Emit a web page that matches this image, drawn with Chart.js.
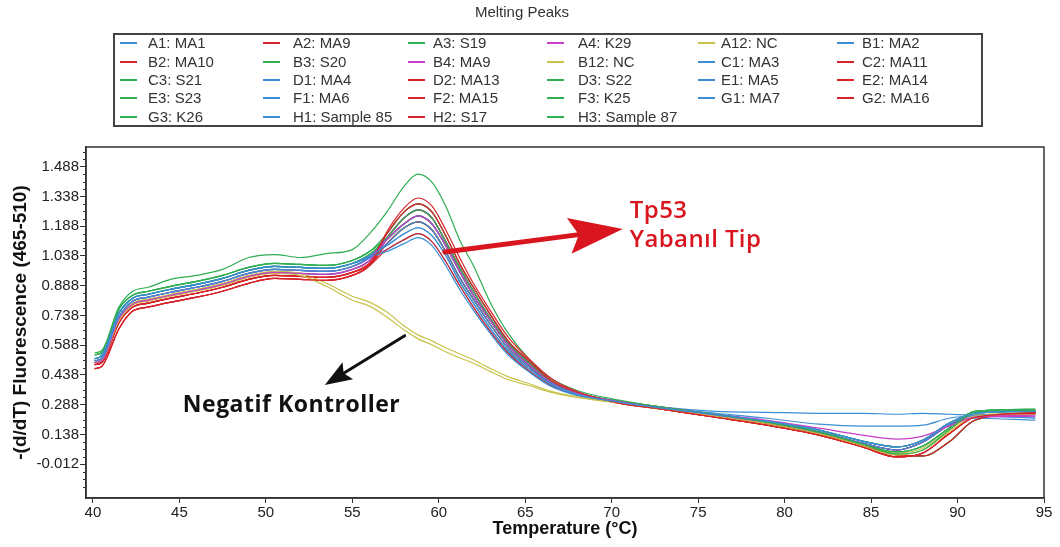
<!DOCTYPE html>
<html>
<head>
<meta charset="utf-8">
<script src="https://cdn.jsdelivr.net/npm/chart.js@4.4.1/dist/chart.umd.min.js"></script>
<style>
  html, body { margin: 0; padding: 0; background: #fff; }
  #wrap { position: relative; width: 1060px; height: 547px; overflow: hidden; }
  #c { position: absolute; left: 0; top: 0; }
  #legend { position: absolute; left: 113px; top: 33px; width: 870px; height: 94px; box-sizing: border-box;
            border: 2px solid #444; font-family: 'Liberation Sans', Arial, sans-serif; font-size: 15px; color: #333; }
  .li { position: absolute; white-space: nowrap; line-height: 18px; height: 18px; }
  .sw { position: absolute; height: 2px; width: 17px; }
</style>
</head>
<body>
<div id="wrap">
  <canvas id="c" width="1060" height="547"></canvas>
  <div id="legend"></div>
</div>
<script>
// ---------- DATA ----------
const temps = [40.1,40.5,41.5,42.3,43.2,44.5,46,47.5,49,50.5,52,53.5,55,56,57,58,58.8,59.6,60.4,61.2,62,63,64,65.2,66.5,68,70.5,73,76,79,82,84.5,86.5,88,89.5,91,94.5];

const xTickValues = [40,45,50,55,60,65,70,75,80,85,90,95];
const yTickValues = [-0.012,0.138,0.288,0.438,0.588,0.738,0.888,1.038,1.188,1.338,1.488];

const sampleLabels = [
  'A1: MA1','A2: MA9','A3: S19','A4: K29','A12: NC','B1: MA2',
  'B2: MA10','B3: S20','B4: MA9','B12: NC','C1: MA3','C2: MA11',
  'C3: S21','D1: MA4','D2: MA13','D3: S22','E1: MA5','E2: MA14',
  'E3: S23','F1: MA6','F2: MA15','F3: K25','G1: MA7','G2: MA16',
  'G3: K26','H1: Sample 85','H2: S17','H3: Sample 87'
];

const A1_MA1 = [0.51,0.52,0.73,0.81,0.83,0.855,0.88,0.91,0.95,0.97,0.965,0.96,0.985,1.03,1.10,1.18,1.21,1.17,1.06,0.93,0.82,0.69,0.575,0.48,0.395,0.342,0.30,0.27,0.24,0.205,0.16,0.105,0.075,0.11,0.195,0.245,0.255];
const A2_MA9 = [0.47,0.48,0.67,0.76,0.78,0.805,0.83,0.86,0.90,0.925,0.92,0.915,0.94,0.99,1.16,1.28,1.33,1.29,1.17,1.03,0.90,0.76,0.63,0.52,0.42,0.355,0.295,0.265,0.225,0.185,0.135,0.075,0.025,0.045,0.14,0.225,0.245];
const A3_S19 = [0.55,0.56,0.78,0.86,0.88,0.92,0.94,0.97,1.03,1.045,1.03,1.05,1.07,1.15,1.26,1.39,1.45,1.41,1.29,1.12,0.99,0.80,0.65,0.52,0.42,0.36,0.31,0.275,0.24,0.20,0.15,0.09,0.04,0.06,0.16,0.25,0.26];
const A4_K29 = [0.50,0.51,0.72,0.795,0.815,0.84,0.865,0.895,0.935,0.955,0.95,0.945,0.97,1.015,1.12,1.20,1.24,1.20,1.09,0.96,0.84,0.71,0.59,0.49,0.40,0.345,0.305,0.275,0.24,0.21,0.17,0.135,0.115,0.13,0.18,0.225,0.235];
const A12_NC = [0.50,0.51,0.71,0.79,0.81,0.835,0.86,0.89,0.93,0.95,0.94,0.885,0.815,0.785,0.73,0.665,0.62,0.59,0.555,0.525,0.497,0.455,0.415,0.385,0.35,0.325,0.295,0.265,0.23,0.19,0.14,0.08,0.035,0.06,0.15,0.23,0.24];
const B1_MA2 = [0.52,0.535,0.75,0.825,0.845,0.87,0.895,0.925,0.965,0.985,0.98,0.975,1.0,1.03,1.06,1.10,1.13,1.09,0.99,0.87,0.765,0.645,0.54,0.455,0.38,0.335,0.30,0.27,0.235,0.20,0.15,0.095,0.06,0.10,0.185,0.235,0.24];
const B2_MA10 = [0.49,0.50,0.70,0.78,0.80,0.825,0.85,0.88,0.92,0.94,0.935,0.93,0.955,1.00,1.15,1.26,1.30,1.26,1.14,1.00,0.88,0.74,0.61,0.51,0.41,0.35,0.30,0.265,0.23,0.19,0.14,0.08,0.035,0.03,0.10,0.21,0.25];
const B3_S20 = [0.54,0.55,0.77,0.84,0.86,0.885,0.91,0.94,0.98,1.00,0.995,0.99,1.015,1.06,1.13,1.23,1.27,1.23,1.11,0.98,0.86,0.72,0.60,0.50,0.405,0.348,0.305,0.275,0.24,0.20,0.15,0.09,0.05,0.08,0.17,0.255,0.265];
const B4_MA9 = [0.51,0.52,0.73,0.81,0.83,0.855,0.88,0.91,0.95,0.97,0.965,0.96,0.985,1.03,1.13,1.23,1.27,1.23,1.11,0.98,0.86,0.72,0.60,0.50,0.405,0.348,0.30,0.27,0.235,0.20,0.15,0.095,0.06,0.10,0.185,0.225,0.23];
const B12_NC = [0.505,0.515,0.72,0.80,0.82,0.845,0.87,0.90,0.94,0.96,0.95,0.90,0.835,0.805,0.755,0.685,0.64,0.61,0.575,0.545,0.515,0.47,0.43,0.395,0.355,0.328,0.298,0.268,0.232,0.195,0.145,0.085,0.045,0.07,0.16,0.235,0.245];
const C1_MA3 = [0.52,0.535,0.75,0.825,0.845,0.87,0.895,0.925,0.965,0.985,0.98,0.975,1.0,1.04,1.09,1.15,1.18,1.14,1.04,0.91,0.80,0.67,0.56,0.47,0.39,0.34,0.30,0.275,0.255,0.25,0.245,0.245,0.24,0.245,0.24,0.235,0.22];
const C2_MA11 = [0.47,0.48,0.67,0.76,0.78,0.805,0.83,0.86,0.90,0.925,0.92,0.915,0.94,0.99,1.10,1.18,1.21,1.17,1.06,0.93,0.82,0.69,0.575,0.48,0.395,0.342,0.295,0.265,0.225,0.185,0.135,0.075,0.025,0.045,0.14,0.225,0.245];
const C3_S21 = [0.54,0.55,0.77,0.84,0.86,0.885,0.91,0.94,0.98,1.00,0.995,0.99,1.015,1.06,1.15,1.26,1.30,1.26,1.14,1.00,0.88,0.74,0.61,0.51,0.41,0.35,0.30,0.265,0.23,0.19,0.14,0.08,0.035,0.03,0.10,0.21,0.25];
const D1_MA4 = [0.51,0.52,0.73,0.81,0.83,0.855,0.88,0.91,0.95,0.97,0.965,0.96,0.985,1.03,1.12,1.20,1.24,1.20,1.09,0.96,0.84,0.71,0.59,0.49,0.40,0.345,0.30,0.27,0.24,0.205,0.16,0.105,0.075,0.11,0.195,0.245,0.255];
const D2_MA13 = [0.49,0.50,0.70,0.78,0.80,0.825,0.85,0.88,0.92,0.94,0.935,0.93,0.955,1.00,1.13,1.23,1.27,1.23,1.11,0.98,0.86,0.72,0.60,0.50,0.405,0.348,0.30,0.27,0.235,0.20,0.15,0.095,0.06,0.10,0.185,0.235,0.24];
const D3_S22 = [0.52,0.535,0.75,0.825,0.845,0.87,0.895,0.925,0.965,0.985,0.98,0.975,1.0,1.045,1.12,1.20,1.24,1.20,1.09,0.96,0.84,0.71,0.59,0.49,0.40,0.345,0.305,0.275,0.24,0.20,0.15,0.09,0.05,0.08,0.17,0.255,0.265];
const E1_MA5 = [0.52,0.535,0.75,0.825,0.845,0.87,0.895,0.925,0.965,0.985,0.98,0.975,1.0,1.04,1.09,1.15,1.18,1.14,1.04,0.91,0.80,0.67,0.56,0.47,0.39,0.34,0.30,0.27,0.235,0.20,0.15,0.095,0.06,0.10,0.185,0.235,0.24];
const E2_MA14 = [0.47,0.48,0.67,0.76,0.78,0.805,0.83,0.86,0.90,0.925,0.92,0.915,0.94,0.99,1.07,1.12,1.15,1.11,1.01,0.89,0.78,0.655,0.55,0.46,0.385,0.338,0.295,0.265,0.225,0.185,0.135,0.075,0.025,0.045,0.14,0.225,0.245];
const E3_S23 = [0.52,0.535,0.75,0.825,0.845,0.87,0.895,0.925,0.965,0.985,0.98,0.975,1.0,1.045,1.13,1.23,1.27,1.23,1.11,0.98,0.86,0.72,0.60,0.50,0.405,0.348,0.30,0.27,0.24,0.205,0.16,0.105,0.075,0.11,0.195,0.245,0.255];
const F1_MA6 = [0.51,0.52,0.73,0.81,0.83,0.855,0.88,0.91,0.95,0.97,0.965,0.96,0.985,1.03,1.13,1.23,1.27,1.23,1.11,0.98,0.86,0.72,0.60,0.50,0.405,0.348,0.30,0.27,0.235,0.20,0.15,0.095,0.06,0.10,0.185,0.22,0.21];
const F2_MA15 = [0.49,0.50,0.70,0.78,0.80,0.825,0.85,0.88,0.92,0.94,0.935,0.93,0.955,1.00,1.12,1.20,1.24,1.20,1.09,0.96,0.84,0.71,0.59,0.49,0.40,0.345,0.30,0.265,0.23,0.19,0.14,0.08,0.035,0.03,0.10,0.21,0.25];
const F3_K25 = [0.51,0.52,0.73,0.81,0.83,0.855,0.88,0.91,0.95,0.97,0.965,0.96,0.985,1.03,1.10,1.18,1.21,1.17,1.06,0.93,0.82,0.69,0.575,0.48,0.395,0.342,0.305,0.275,0.24,0.20,0.15,0.09,0.05,0.08,0.17,0.255,0.265];
const G1_MA7 = [0.50,0.51,0.72,0.795,0.815,0.84,0.865,0.895,0.935,0.955,0.95,0.945,0.97,1.015,1.12,1.20,1.24,1.20,1.09,0.96,0.84,0.71,0.59,0.49,0.40,0.345,0.30,0.27,0.24,0.205,0.16,0.105,0.075,0.11,0.195,0.245,0.255];
const G2_MA16 = [0.50,0.51,0.72,0.795,0.815,0.84,0.865,0.895,0.935,0.955,0.95,0.945,0.97,1.015,1.15,1.26,1.30,1.26,1.14,1.00,0.88,0.74,0.61,0.51,0.41,0.35,0.295,0.265,0.225,0.185,0.135,0.075,0.025,0.045,0.14,0.225,0.245];
const G3_K26 = [0.54,0.55,0.77,0.84,0.86,0.885,0.91,0.94,0.98,1.00,0.995,0.99,1.015,1.06,1.13,1.23,1.27,1.23,1.11,0.98,0.86,0.72,0.60,0.50,0.405,0.348,0.30,0.265,0.23,0.19,0.14,0.08,0.035,0.03,0.10,0.21,0.25];
const H1_S85 = [0.52,0.535,0.75,0.825,0.845,0.87,0.895,0.925,0.965,0.985,0.98,0.975,1.0,1.035,1.07,1.12,1.15,1.11,1.01,0.89,0.78,0.655,0.55,0.46,0.385,0.338,0.30,0.27,0.245,0.22,0.19,0.18,0.18,0.185,0.22,0.23,0.225];
const H2_S17 = [0.49,0.50,0.70,0.78,0.80,0.825,0.85,0.88,0.92,0.94,0.935,0.93,0.955,1.00,1.10,1.18,1.21,1.17,1.06,0.93,0.82,0.69,0.575,0.48,0.395,0.342,0.30,0.27,0.235,0.20,0.15,0.095,0.06,0.10,0.185,0.235,0.24];
const H3_S87 = [0.52,0.535,0.75,0.825,0.845,0.87,0.895,0.925,0.965,0.985,0.98,0.975,1.0,1.045,1.12,1.20,1.24,1.20,1.09,0.96,0.84,0.71,0.59,0.49,0.40,0.345,0.30,0.27,0.24,0.205,0.16,0.105,0.075,0.11,0.195,0.245,0.255];

const seriesValues = [A1_MA1,A2_MA9,A3_S19,A4_K29,A12_NC,B1_MA2,B2_MA10,B3_S20,B4_MA9,B12_NC,C1_MA3,C2_MA11,C3_S21,D1_MA4,D2_MA13,D3_S22,E1_MA5,E2_MA14,E3_S23,F1_MA6,F2_MA15,F3_K25,G1_MA7,G2_MA16,G3_K26,H1_S85,H2_S17,H3_S87];

// ---------- STYLE ----------
const C_BLUE = '#3b8ed4', C_RED = '#d8232a', C_GREEN = '#2fae52', C_MAG = '#c63fc6', C_YEL = '#c8c24a';
const sampleColors = [
  C_BLUE, C_RED, C_GREEN, C_MAG, C_YEL, C_BLUE,
  C_RED, C_GREEN, C_MAG, C_YEL, C_BLUE, C_RED,
  C_GREEN, C_BLUE, C_RED, C_GREEN, C_BLUE, C_RED,
  C_GREEN, C_BLUE, C_RED, C_GREEN, C_BLUE, C_RED,
  C_GREEN, C_BLUE, C_RED, C_GREEN
];

// annotations in data coordinates (temperature, value)
const annotations = {
  redArrow:   { from: [60.35, 1.058], to: [70.64, 1.174], color: '#d9161f', width: 5, headLen: 54, headHalf: 18 },
  blackArrow: { from: [58.03, 0.636], to: [53.41, 0.388], color: '#111', width: 3, headLen: 27, headHalf: 10 },
  texts: [
    { text: 'Tp53', at: [71.05, 1.229], color: '#d9161f', font: '600 24px "Open Sans", sans-serif', spacing: '0.4px' },
    { text: 'Yabanıl Tip', at: [71.05, 1.083], color: '#d9161f', font: '600 24px "Open Sans", sans-serif', spacing: '0.4px' },
    { text: 'Negatif Kontroller', at: [45.2, 0.252], color: '#111', font: '700 23px "Open Sans", sans-serif', spacing: '0.5px' }
  ]
};

const datasets = seriesValues.map((vals, i) => ({
  label: sampleLabels[i],
  data: vals.map((v, j) => ({ x: temps[j], y: v })),
  borderColor: sampleColors[i],
  backgroundColor: sampleColors[i],
  borderWidth: 1.2,
  pointRadius: 0,
  fill: false,
  cubicInterpolationMode: 'monotone'
}));

function drawArrow(ctx, xs, ys, a) {
  const x1 = xs.getPixelForValue(a.from[0]), y1 = ys.getPixelForValue(a.from[1]);
  const x2 = xs.getPixelForValue(a.to[0]), y2 = ys.getPixelForValue(a.to[1]);
  const dx = x2 - x1, dy = y2 - y1, L = Math.hypot(dx, dy);
  const ux = dx / L, uy = dy / L, nx = -uy, ny = ux;
  const notch = a.headLen * 0.82;
  ctx.save();
  ctx.strokeStyle = a.color; ctx.fillStyle = a.color; ctx.lineWidth = a.width; ctx.lineCap = 'round';
  ctx.beginPath(); ctx.moveTo(x1, y1); ctx.lineTo(x2 - ux * notch, y2 - uy * notch); ctx.stroke();
  ctx.beginPath();
  ctx.moveTo(x2, y2);
  ctx.lineTo(x2 - ux * a.headLen + nx * a.headHalf, y2 - uy * a.headLen + ny * a.headHalf);
  ctx.lineTo(x2 - ux * notch, y2 - uy * notch);
  ctx.lineTo(x2 - ux * a.headLen - nx * a.headHalf, y2 - uy * a.headLen - ny * a.headHalf);
  ctx.closePath(); ctx.fill();
  ctx.restore();
}

const decorPlugin = {
  id: 'decor',
  afterDraw(chart) {
    const { ctx, chartArea: ca, scales } = chart;
    const xs = scales.x, ys = scales.y;
    // minor y ticks
    ctx.save();
    ctx.strokeStyle = '#333'; ctx.lineWidth = 1;
    for (let k = -4; k <= 44; k++) {
      if (k % 4 === 0) continue;
      const v = yTickValues[0] + k * 0.0375;
      const py = Math.round(ys.getPixelForValue(v)) + 0.5;
      if (py < ca.top || py > ca.bottom) continue;
      ctx.beginPath(); ctx.moveTo(ca.left - 3, py); ctx.lineTo(ca.left, py); ctx.stroke();
    }
    // frame
    ctx.strokeStyle = '#333'; ctx.lineWidth = 1.5;
    ctx.strokeRect(ca.left, ca.top, ca.right - ca.left, ca.bottom - ca.top);
    ctx.restore();
    // annotations
    drawArrow(ctx, xs, ys, annotations.redArrow);
    drawArrow(ctx, xs, ys, annotations.blackArrow);
    ctx.save();
    ctx.textBaseline = 'alphabetic'; ctx.textAlign = 'left';
    annotations.texts.forEach(t => {
      ctx.font = t.font; ctx.fillStyle = t.color;
      try { ctx.letterSpacing = t.spacing; } catch (e) {}
      ctx.fillText(t.text, xs.getPixelForValue(t.at[0]), ys.getPixelForValue(t.at[1]));
    });
    ctx.restore();
  }
};

const chart = new Chart(document.getElementById('c'), {
  type: 'line',
  data: { datasets },
  options: {
    responsive: false,
    animation: false,
    events: [],
    layout: { padding: { left: 0, right: 16, top: 0, bottom: 0 } },
    plugins: {
      legend: { display: false },
      tooltip: { enabled: false },
      title: {
        display: true, text: 'Melting Peaks', color: '#333',
        font: { family: "'Liberation Sans', Arial, sans-serif", size: 15, weight: 'normal' },
        padding: { top: 4, bottom: 125 }
      }
    },
    scales: {
      x: {
        type: 'linear', min: 39.6, max: 95,
        afterBuildTicks: s => { s.ticks = xTickValues.map(v => ({ value: v })); },
        afterFit: s => { s.height = 49; },
        grid: { display: true, drawOnChartArea: false, drawTicks: true, tickLength: 5, color: '#333' },
        border: { display: true, color: '#333', width: 1.5 },
        ticks: { color: '#222', maxRotation: 0, padding: 1, autoSkip: false,
                 font: { family: "'Liberation Sans Narrow', 'Liberation Sans', Arial, sans-serif", size: 15 },
                 callback: v => String(v) },
        title: { display: true, text: 'Temperature (°C)', color: '#111',
                 font: { family: "'Liberation Sans Narrow', 'Liberation Sans', Arial, sans-serif", size: 18, weight: 'bold' },
                 padding: { top: 0, bottom: 7 } }
      },
      y: {
        type: 'linear', min: -0.182, max: 1.587,
        afterBuildTicks: s => { s.ticks = yTickValues.map(v => ({ value: v })); },
        afterFit: s => { s.width = 86; },
        grid: { display: true, drawOnChartArea: false, drawTicks: true, tickLength: 6, color: '#333' },
        border: { display: true, color: '#333', width: 1.5 },
        ticks: { color: '#222', padding: 1, autoSkip: false,
                 font: { family: "'Liberation Sans', Arial, sans-serif", size: 15 },
                 callback: v => Number(v).toFixed(3) },
        title: { display: true, text: '-(d/dT) Fluorescence (465-510)', color: '#111',
                 font: { family: "'Liberation Sans', Arial, sans-serif", size: 19, weight: 'bold' },
                 padding: { top: 9, bottom: 0 } }
      }
    }
  },
  plugins: [decorPlugin]
});

// HTML legend built from the chart's datasets
(function buildLegend() {
  const el = document.getElementById('legend');
  const boxLeft = 113, boxTop = 33;
  const lineX = [120, 263, 408, 547, 698, 837];
  const textX = [148, 293, 433, 578, 721, 862];
  const rowY = [43, 62, 80, 98, 117];
  chart.data.datasets.forEach((ds, i) => {
    const r = Math.floor(i / 6), c = i % 6;
    const sw = document.createElement('div');
    sw.className = 'sw';
    sw.style.background = ds.borderColor;
    sw.style.left = (lineX[c] - boxLeft - 2) + 'px';
    sw.style.top = (rowY[r] - boxTop - 3) + 'px';
    el.appendChild(sw);
    const t = document.createElement('div');
    t.className = 'li';
    t.textContent = ds.label;
    t.style.left = (textX[c] - boxLeft - 2) + 'px';
    t.style.top = (rowY[r] - boxTop - 2 - 9) + 'px';
    el.appendChild(t);
  });
})();
</script>
</body>
</html>
